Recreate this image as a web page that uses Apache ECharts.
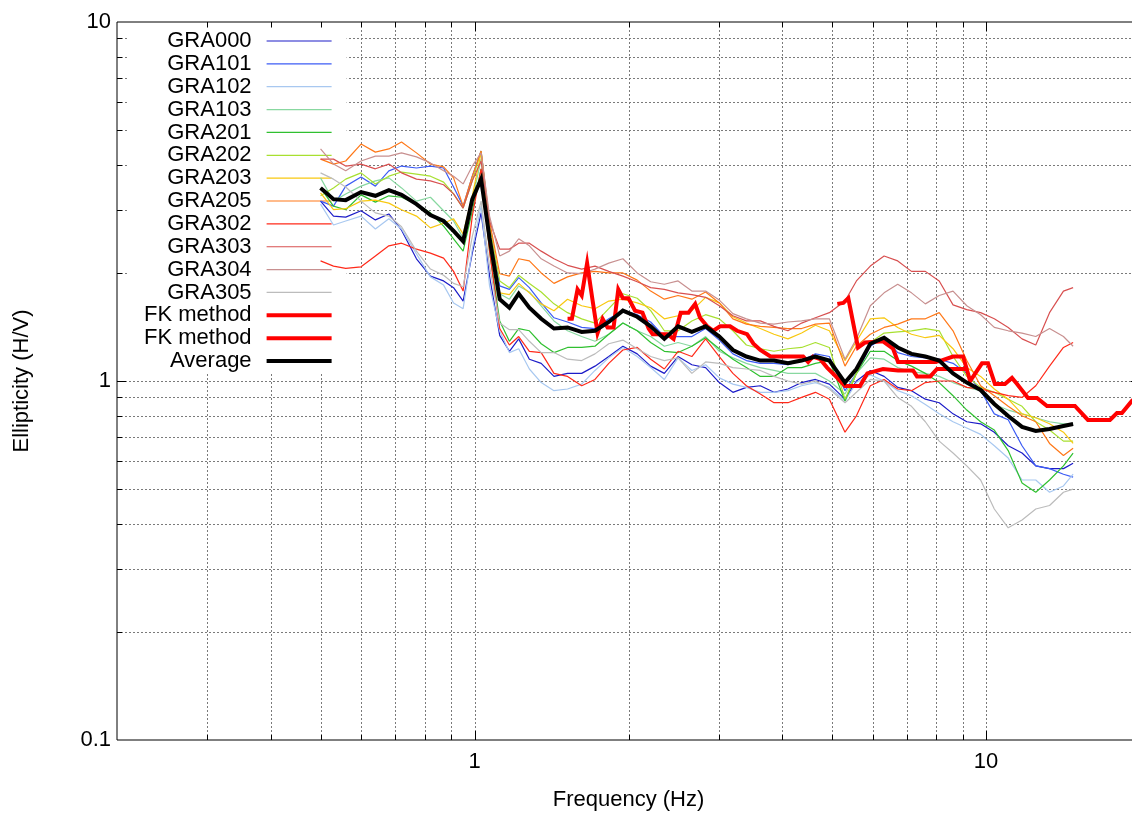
<!DOCTYPE html>
<html>
<head>
<meta charset="utf-8">
<script src="https://cdn.jsdelivr.net/npm/echarts/dist/echarts.min.js"></script>
<style>
  html, body { margin: 0; padding: 0; background: #fff; }
  #chart { width: 1132px; height: 816px; }
</style>
</head>
<body>
<div id="chart"></div>
<script>
// Common frequency samples (Hz) of the station H/V curves
const FREQ = [0.50, 0.53, 0.56, 0.60, 0.64, 0.68, 0.72, 0.77, 0.82, 0.87,
  0.91, 0.95, 0.99, 1.03, 1.07, 1.12, 1.17, 1.22, 1.28, 1.35,
  1.43, 1.52, 1.62, 1.72, 1.83, 1.95, 2.08, 2.21, 2.35, 2.50,
  2.66, 2.83, 3.01, 3.20, 3.40, 3.62, 3.85, 4.10, 4.36, 4.64,
  4.94, 5.30, 5.58, 5.94, 6.32, 6.72, 7.15, 7.61, 8.10, 8.62,
  9.17, 9.76, 10.38, 11.05, 11.76, 12.51, 13.31, 14.17, 14.80];

const GRA000 = [3.17, 2.88, 2.86, 2.98, 2.81, 2.92, 2.63, 2.19, 1.96, 1.90,
  1.82, 1.67, 2.27, 2.94, 1.96, 1.34, 1.21, 1.31, 1.15, 1.12,
  1.03, 1.05, 1.05, 1.10, 1.17, 1.25, 1.19, 1.10, 1.05, 1.17,
  1.11, 1.09, 0.99, 0.93, 0.96, 0.97, 0.93, 0.95, 0.99, 1.01,
  0.98, 0.89, 1.00, 1.07, 1.03, 0.96, 0.94, 0.89, 0.87, 0.81,
  0.77, 0.76, 0.72, 0.66, 0.63, 0.58, 0.57, 0.57, 0.59];
const GRA101 = [3.17, 3.07, 3.49, 3.70, 3.49, 3.85, 3.97, 3.92, 3.97, 3.92,
  3.47, 3.07, 3.72, 4.37, 2.70, 1.84, 1.80, 1.94, 1.82, 1.65,
  1.50, 1.46, 1.41, 1.40, 1.49, 1.57, 1.53, 1.46, 1.33, 1.33,
  1.33, 1.40, 1.30, 1.19, 1.14, 1.12, 1.12, 1.11, 1.14, 1.19,
  1.17, 0.94, 1.05, 1.25, 1.32, 1.20, 1.17, 1.16, 1.15, 1.12,
  1.05, 0.94, 0.81, 0.78, 0.66, 0.58, 0.57, 0.55, 0.54];
const GRA102 = [3.11, 2.72, 2.79, 2.88, 2.65, 2.83, 2.65, 2.26, 1.95, 1.85,
  1.65, 1.59, 2.33, 3.07, 1.84, 1.38, 1.20, 1.23, 1.08, 0.99,
  0.94, 0.95, 0.98, 1.07, 1.16, 1.24, 1.17, 1.09, 1.01, 1.16,
  1.07, 1.11, 1.02, 0.98, 0.96, 0.93, 0.93, 0.94, 0.97, 0.99,
  0.96, 0.88, 0.99, 1.04, 1.00, 0.94, 0.91, 0.86, 0.81, 0.77,
  0.74, 0.71, 0.66, 0.61, 0.53, 0.53, 0.49, 0.51, 0.55];
const GRA103 = [3.68, 3.17, 3.32, 3.49, 3.61, 3.68, 3.45, 3.17, 3.25, 2.98,
  2.79, 2.50, 3.17, 4.15, 2.45, 1.75, 1.69, 1.84, 1.77, 1.62,
  1.47, 1.38, 1.33, 1.29, 1.35, 1.45, 1.38, 1.33, 1.25, 1.28,
  1.25, 1.33, 1.21, 1.16, 1.12, 1.09, 1.07, 1.05, 1.05, 1.05,
  1.00, 0.92, 1.05, 1.16, 1.15, 1.09, 1.06, 1.05, 1.03, 0.99,
  0.96, 0.94, 0.86, 0.83, 0.81, 0.79, 0.77, 0.76, 0.76];
const GRA201 = [3.45, 3.07, 3.00, 3.30, 3.15, 3.28, 3.25, 3.11, 2.94, 2.70,
  2.49, 2.30, 2.98, 3.90, 2.30, 1.47, 1.29, 1.40, 1.38, 1.27,
  1.20, 1.24, 1.24, 1.25, 1.35, 1.45, 1.38, 1.28, 1.21, 1.20,
  1.25, 1.32, 1.23, 1.15, 1.09, 1.03, 1.03, 1.09, 1.09, 1.12,
  1.14, 0.88, 1.05, 1.21, 1.21, 1.14, 1.10, 1.05, 0.99, 0.91,
  0.83, 0.77, 0.73, 0.64, 0.52, 0.49, 0.53, 0.58, 0.63];
const GRA202 = [3.28, 3.45, 3.65, 3.80, 3.54, 3.72, 3.82, 3.77, 3.72, 3.58,
  3.32, 3.03, 3.61, 4.37, 2.70, 1.90, 1.82, 1.97, 1.87, 1.77,
  1.64, 1.55, 1.49, 1.45, 1.59, 1.75, 1.70, 1.57, 1.38, 1.38,
  1.47, 1.53, 1.49, 1.38, 1.26, 1.23, 1.21, 1.23, 1.24, 1.28,
  1.24, 0.89, 1.05, 1.28, 1.36, 1.37, 1.38, 1.40, 1.38, 1.17,
  1.03, 0.96, 0.93, 0.89, 0.85, 0.77, 0.73, 0.68, 0.68];
const GRA203 = [3.34, 3.00, 3.02, 3.17, 3.19, 3.13, 3.00, 2.88, 2.67, 2.75,
  2.83, 2.57, 3.28, 4.32, 2.62, 1.76, 1.74, 1.87, 1.76, 1.64,
  1.57, 1.69, 1.62, 1.59, 1.67, 1.69, 1.65, 1.60, 1.49, 1.52,
  1.57, 1.71, 1.65, 1.51, 1.45, 1.40, 1.35, 1.31, 1.36, 1.43,
  1.38, 1.14, 1.29, 1.49, 1.50, 1.41, 1.35, 1.32, 1.34, 1.23,
  1.09, 1.03, 0.95, 0.89, 0.81, 0.79, 0.76, 0.72, 0.67];
const GRA205 = [4.15, 4.02, 4.10, 4.57, 4.34, 4.43, 4.63, 4.32, 4.02, 3.95,
  3.68, 3.07, 3.72, 4.37, 2.79, 1.99, 1.96, 2.19, 2.16, 2.00,
  1.87, 1.95, 2.00, 2.02, 2.00, 2.00, 1.91, 1.78, 1.69, 1.73,
  1.69, 1.77, 1.65, 1.49, 1.44, 1.42, 1.41, 1.40, 1.40, 1.44,
  1.45, 1.10, 1.25, 1.35, 1.41, 1.44, 1.49, 1.49, 1.55, 1.38,
  1.14, 0.97, 0.91, 0.85, 0.80, 0.77, 0.67, 0.62, 0.65];
const GRA302 = [2.16, 2.09, 2.06, 2.08, 2.23, 2.38, 2.42, 2.33, 2.27, 2.20,
  2.02, 1.78, 2.88, 3.90, 2.30, 1.40, 1.26, 1.33, 1.21, 1.20,
  1.05, 1.03, 0.97, 1.01, 1.12, 1.22, 1.24, 1.15, 1.08, 1.21,
  1.17, 1.31, 1.17, 1.05, 0.97, 0.92, 0.87, 0.87, 0.90, 0.93,
  0.89, 0.72, 0.80, 0.97, 1.01, 0.95, 0.94, 0.99, 1.00, 1.00,
  0.96, 0.95, 0.93, 0.91, 0.90, 0.97, 1.10, 1.24, 1.28];
const GRA303 = [4.15, 4.15, 3.97, 4.02, 3.90, 4.02, 3.80, 3.65, 3.61, 3.52,
  3.32, 3.03, 3.61, 4.10, 2.79, 2.33, 2.33, 2.42, 2.42, 2.30,
  2.19, 2.10, 2.05, 2.09, 2.02, 1.96, 1.89, 1.82, 1.80, 1.76,
  1.74, 1.71, 1.62, 1.52, 1.47, 1.47, 1.42, 1.38, 1.45, 1.50,
  1.55, 1.67, 1.90, 2.09, 2.23, 2.16, 2.02, 2.02, 1.90, 1.63,
  1.58, 1.55, 1.49, 1.41, 1.31, 1.26, 1.55, 1.78, 1.82];
const GRA304 = [4.43, 4.02, 3.85, 4.10, 4.23, 4.23, 4.32, 4.21, 4.05, 3.85,
  3.72, 3.54, 3.97, 4.32, 2.88, 2.23, 2.30, 2.49, 2.38, 2.19,
  2.09, 2.00, 1.99, 2.05, 2.13, 2.19, 2.00, 1.89, 1.86, 1.90,
  1.78, 1.78, 1.68, 1.54, 1.49, 1.45, 1.44, 1.46, 1.47, 1.49,
  1.49, 1.15, 1.31, 1.62, 1.76, 1.86, 1.76, 1.64, 1.73, 1.78,
  1.62, 1.53, 1.41, 1.38, 1.36, 1.33, 1.40, 1.33, 1.25];
const GRA305 = [3.80, 3.65, 3.47, 3.17, 2.94, 2.88, 2.69, 2.30, 2.05, 1.97,
  1.87, 1.83, 2.53, 3.17, 2.09, 1.45, 1.39, 1.39, 1.29, 1.20,
  1.20, 1.15, 1.14, 1.19, 1.27, 1.30, 1.23, 1.17, 1.14, 1.16,
  1.05, 1.13, 1.12, 1.09, 1.08, 1.07, 1.03, 1.00, 0.98, 1.00,
  0.95, 0.87, 0.93, 1.01, 1.00, 0.90, 0.85, 0.77, 0.68, 0.63,
  0.58, 0.53, 0.44, 0.39, 0.41, 0.44, 0.45, 0.49, 0.50];
const AVERAGE = [3.45, 3.21, 3.19, 3.36, 3.28, 3.40, 3.30, 3.11, 2.90, 2.79,
  2.62, 2.45, 3.21, 3.65, 2.50, 1.69, 1.60, 1.75, 1.60, 1.49,
  1.40, 1.41, 1.37, 1.38, 1.46, 1.57, 1.51, 1.42, 1.31, 1.42,
  1.37, 1.42, 1.33, 1.22, 1.17, 1.14, 1.14, 1.12, 1.14, 1.17,
  1.14, 0.99, 1.08, 1.27, 1.32, 1.24, 1.19, 1.17, 1.14, 1.05,
  0.99, 0.944, 0.863, 0.799, 0.745, 0.726, 0.735, 0.749, 0.759];

// FK (array) ellipticity estimates, each with its own frequency samples
const FK1_FREQ = [1.52, 1.55, 1.59, 1.62, 1.66, 1.70, 1.74, 1.78, 1.82, 1.87,
  1.91, 1.95, 2.00, 2.06, 2.13, 2.19, 2.23, 2.38, 2.45, 2.53,
  2.62, 2.70, 2.76, 2.85, 2.93, 3.02, 3.16, 3.26, 3.41, 3.51,
  3.62, 3.79, 4.39, 4.49, 4.59, 4.74, 4.89, 5.12, 5.30, 5.67,
  5.86, 6.29, 6.73, 7.20, 7.33, 7.78, 8.02, 9.18];
const FK1_VAL = [1.49, 1.49, 1.80, 1.73, 2.13, 1.69, 1.36, 1.49, 1.41, 1.41,
  1.80, 1.70, 1.70, 1.57, 1.55, 1.40, 1.35, 1.35, 1.31, 1.55,
  1.55, 1.64, 1.50, 1.42, 1.38, 1.42, 1.42, 1.38, 1.35, 1.27,
  1.22, 1.17, 1.17, 1.13, 1.17, 1.15, 1.09, 1.02, 0.968, 0.968,
  1.05, 1.08, 1.07, 1.07, 1.03, 1.03, 1.08, 1.08];
const FK2_FREQ = [5.12, 5.26, 5.38, 5.62, 5.80, 6.29, 6.58, 6.73, 7.95, 8.17,
  8.62, 9.02, 9.31, 9.82, 10.09, 10.41, 10.89, 11.24, 11.50, 12.08,
  12.58, 13.16, 14.92, 15.82, 17.47, 18.03, 18.44, 19.28, 20.0];
const FK2_VAL = [1.64, 1.65, 1.70, 1.24, 1.28, 1.29, 1.23, 1.13, 1.13, 1.14,
  1.17, 1.17, 1.00, 1.12, 1.12, 0.981, 0.981, 1.02, 0.981, 0.897,
  0.897, 0.852, 0.852, 0.779, 0.779, 0.814, 0.814, 0.880, 0.92];

// Axis ranges and log grid positions
const X_RANGE = [0.2, 20];
const Y_RANGE = [0.1, 10];
const X_GRID = [0.3, 0.4, 0.5, 0.6, 0.7, 0.8, 0.9, 1, 2, 3, 4, 5, 6, 7, 8, 9, 10];
const Y_GRID = [0.2, 0.3, 0.4, 0.5, 0.6, 0.7, 0.8, 0.9, 1, 2, 3, 4, 5, 6, 7, 8, 9];
const MAJOR = [0.1, 1, 10];

const FONT = '"Liberation Sans", Arial, Helvetica, sans-serif';
const GRID_COLOR = '#7a7a7a';

const STATIONS = [
  { name: 'GRA000', color: '#1c1cc8', values: GRA000 },
  { name: 'GRA101', color: '#3c5cf5', values: GRA101 },
  { name: 'GRA102', color: '#a8c8f0', values: GRA102 },
  { name: 'GRA103', color: '#88d8a0', values: GRA103 },
  { name: 'GRA201', color: '#30c030', values: GRA201 },
  { name: 'GRA202', color: '#a8e030', values: GRA202 },
  { name: 'GRA203', color: '#f8c810', values: GRA203 },
  { name: 'GRA205', color: '#ff7818', values: GRA205 },
  { name: 'GRA302', color: '#ff2a1a', values: GRA302 },
  { name: 'GRA303', color: '#d85050', values: GRA303 },
  { name: 'GRA304', color: '#c89090', values: GRA304 },
  { name: 'GRA305', color: '#bcbcbc', values: GRA305 }
];

const isMajor = v => MAJOR.some(m => Math.abs(m - v) < 1e-9);

// Dotted vertical grid lines plus bottom/top ticks
function renderXGrid(params, api) {
  const x = api.value(0);
  const lo = api.coord([x, Y_RANGE[0]]);
  const hi = api.coord([x, Y_RANGE[1]]);
  const px = Math.round(lo[0]) + 0.5;
  const len = isMajor(x) ? 9 : 5;
  return {
    type: 'group',
    children: [
      { type: 'line', shape: { x1: px, y1: hi[1], x2: px, y2: lo[1] },
        style: { stroke: GRID_COLOR, lineWidth: 1, lineDash: [2, 2] } },
      { type: 'line', shape: { x1: px, y1: lo[1], x2: px, y2: lo[1] - len },
        style: { stroke: '#000', lineWidth: 1 } },
      { type: 'line', shape: { x1: px, y1: hi[1], x2: px, y2: hi[1] + len },
        style: { stroke: '#000', lineWidth: 1 } }
    ]
  };
}

// Dotted horizontal grid lines plus left/right ticks
function renderYGrid(params, api) {
  const y = api.value(1);
  const lo = api.coord([X_RANGE[0], y]);
  const hi = api.coord([X_RANGE[1], y]);
  const py = Math.round(lo[1]) + 0.5;
  const len = isMajor(y) ? 9 : 5;
  return {
    type: 'group',
    children: [
      { type: 'line', shape: { x1: lo[0], y1: py, x2: hi[0], y2: py },
        style: { stroke: GRID_COLOR, lineWidth: 1, lineDash: [2, 2] } },
      { type: 'line', shape: { x1: lo[0], y1: py, x2: lo[0] + len, y2: py },
        style: { stroke: '#000', lineWidth: 1 } },
      { type: 'line', shape: { x1: hi[0], y1: py, x2: hi[0] - len, y2: py },
        style: { stroke: '#000', lineWidth: 1 } }
    ]
  };
}

const series = [
  { type: 'custom', name: 'xgrid', z: 1, silent: true, clip: false,
    renderItem: renderXGrid, encode: { x: 0, y: 1 },
    data: X_GRID.map(v => [v, 1]) },
  { type: 'custom', name: 'ygrid', z: 1, silent: true, clip: false,
    renderItem: renderYGrid, encode: { x: 0, y: 1 },
    data: Y_GRID.map(v => [1, v]) }
];

STATIONS.forEach(s => {
  series.push({
    type: 'line', name: s.name, z: 10, silent: true,
    symbol: 'none', showSymbol: false, clip: true,
    data: FREQ.map((f, i) => [f, s.values[i]]),
    lineStyle: { color: s.color, width: 1.2 },
    itemStyle: { color: s.color }
  });
});

const thick = (name, freq, vals, color, width) => ({
  type: 'line', name: name, z: 10, silent: true,
  symbol: 'none', showSymbol: false, clip: true,
  data: freq.map((f, i) => [f, vals[i]]),
  lineStyle: { color: color, width: width, join: 'miter' },
  itemStyle: { color: color }
});
series.push(thick('FK method 1', FK1_FREQ, FK1_VAL, '#ff0000', 4));
series.push(thick('FK method 2', FK2_FREQ, FK2_VAL, '#ff0000', 4));
series.push(thick('Average', FREQ, AVERAGE, '#000000', 4));

const legendNames = STATIONS.map(s => s.name).concat(['FK method 1', 'FK method 2', 'Average']);

const chart = echarts.init(document.getElementById('chart'), null, { renderer: 'canvas' });
chart.setOption({
  animation: false,
  backgroundColor: '#ffffff',
  textStyle: { fontFamily: FONT },
  grid: {
    left: 117, top: 22, right: -8, bottom: 76,
    show: true, borderColor: '#000', borderWidth: 1, backgroundColor: 'transparent',
    containLabel: false, outerBoundsMode: 'none'
  },
  legend: {
    orient: 'vertical', left: 127, top: 28, align: 'right', z: 5,
    backgroundColor: '#ffffff', padding: [2, 13, 2, 17],
    itemWidth: 65, itemHeight: 14, itemGap: 0.86,
    selectedMode: false,
    textStyle: { fontFamily: FONT, fontSize: 22, color: '#000', lineHeight: 22, padding: [0, 10, 0, 0] },
    lineStyle: { width: 'inherit' },
    itemStyle: { color: 'rgba(0,0,0,0)', borderColor: 'rgba(0,0,0,0)', borderWidth: 0, opacity: 0 },
    formatter: name => name.indexOf('FK method') === 0 ? 'FK method' : name,
    data: legendNames
  },
  xAxis: {
    type: 'log', logBase: 10, min: X_RANGE[0], max: X_RANGE[1],
    axisLine: { show: false }, axisTick: { show: false }, splitLine: { show: false },
    axisLabel: {
      fontFamily: FONT, fontSize: 22, color: '#000', margin: 11,
      formatter: v => Math.abs(v - 1) < 1e-6 ? '1' : (Math.abs(v - 10) < 1e-6 ? '10' : '')
    },
    name: 'Frequency (Hz)', nameLocation: 'middle', nameGap: 49,
    nameTextStyle: { fontFamily: FONT, fontSize: 22, color: '#000' }
  },
  yAxis: {
    type: 'log', logBase: 10, min: Y_RANGE[0], max: Y_RANGE[1],
    axisLine: { show: false }, axisTick: { show: false }, splitLine: { show: false },
    axisLabel: {
      fontFamily: FONT, fontSize: 22, color: '#000', margin: 6,
      formatter: v => v < 0.5 ? '0.1' : (v < 5 ? '1' : '10')
    },
    name: 'Ellipticity (H/V)', nameLocation: 'middle', nameGap: 84, nameRotate: 90,
    nameTextStyle: { fontFamily: FONT, fontSize: 22, color: '#000' }
  },
  series: series
});
</script>
</body>
</html>
